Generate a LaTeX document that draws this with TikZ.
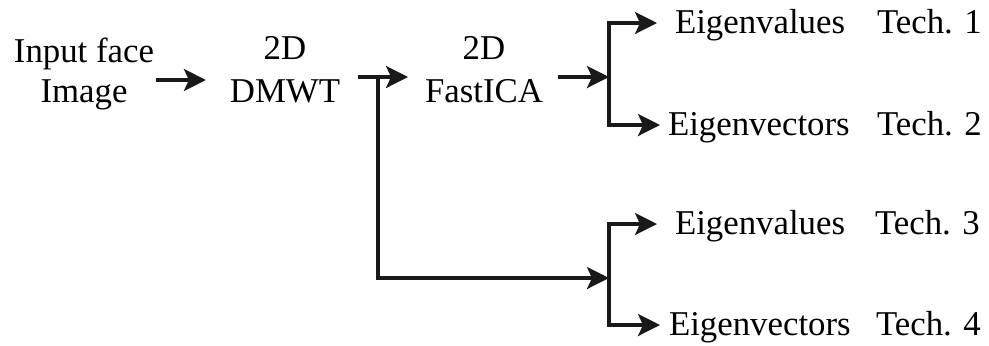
\documentclass[tikz,border=0pt]{standalone}
\usepackage{fontspec}
\setmainfont{Liberation Serif}
\usetikzlibrary{arrows.meta}
\tikzset{
  txt/.style={inner sep=0pt, outer sep=0pt, font=\fontsize{17.4}{20}\selectfont},
  twoline/.style={txt, anchor=base},
  lbl/.style={txt, anchor=west, text height=11.5pt, text depth=1.5pt},
  conn/.style={line width=1.6pt, line join=miter, draw=black!90},
  arr/.style={conn, -{Stealth[length=11pt, width=11pt, inset=2.5pt]}}
}
\begin{document}
\begin{tikzpicture}[x=0.5pt, y=-0.5pt]
\useasboundingbox (0,0) rectangle (989,345);

% text blocks
\node[twoline] (inp)  at (84,62)  {\begin{tabular}[t]{@{}c@{}}Input face\\Image\end{tabular}};
\node[twoline] (dmwt) at (285,59) {\begin{tabular}[t]{@{}c@{}}2D\\[1.5pt]DMWT\end{tabular}};
\node[twoline] (fica) at (484,59) {\begin{tabular}[t]{@{}c@{}}2D\\[1.5pt]FastICA\end{tabular}};

\node[lbl] (ev1)  at (675,23)  {Eigenvalues};
\node[lbl] (evc1) at (668,125) {Eigenvectors};
\node[lbl] (ev2)  at (675,224) {Eigenvalues};
\node[lbl] (evc2) at (669,325) {Eigenvectors};

\node[lbl] (t1) at (877,23)  {Tech. 1};
\node[lbl] (t2) at (877,125) {Tech. 2};
\node[lbl] (t3) at (875,224) {Tech. 3};
\node[lbl] (t4) at (876,325) {Tech. 4};

% helper coordinates
\coordinate (ya) at (0,80);
\coordinate (yb) at (0,77);
\coordinate (tj) at (378,77);
\coordinate (cn) at (378,278);
\coordinate (b1) at (609,77);
\coordinate (b2) at (609,278);

% connectors
\draw[arr, shorten <=1pt, shorten >=12pt] (inp.east |- ya) -- (dmwt.west |- ya);
\draw[arr, shorten <=9pt, shorten >=8.5pt] (dmwt.east |- yb) -- (fica.west |- yb);
\draw[arr] (tj) -- (cn) -- (b2);
\draw[arr, shorten <=7.5pt] (fica.east |- yb) -- (b1);

\draw[arr, shorten >=9pt] (b1) |- (ev1.west);
\draw[arr, shorten >=4pt] (b1) |- (evc1.west);
\draw[arr, shorten >=9pt] (b2) |- (ev2.west);
\draw[arr, shorten >=4.5pt] (b2) |- (evc2.west);
\end{tikzpicture}
\end{document}
